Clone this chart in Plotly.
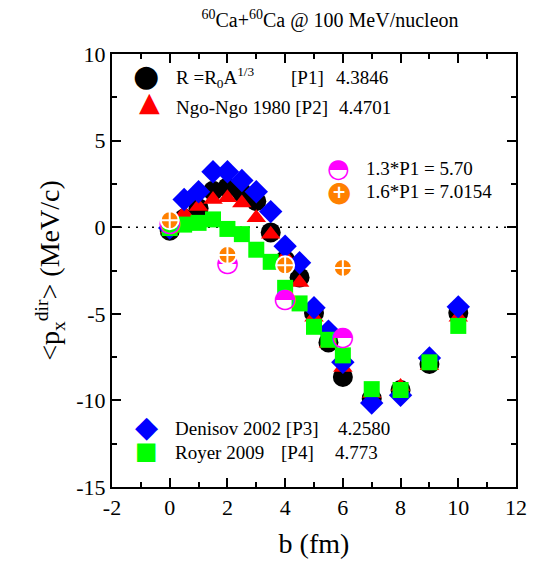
import plotly.graph_objects as go

# ---------------- data ----------------
b = [0, 0.5, 1, 1.5, 2, 2.5, 3, 3.5, 4, 4.5, 5, 5.5, 6, 7, 8, 9, 10]
p1 = [-0.2, 0.5, 1.1, 2.1, 2.3, 2.0, 1.5, -0.3, -1.9, -2.9, -4.95, -6.65, -8.65, -9.9, -9.4, -7.9, -4.95]
p2 = [-0.1, 0.8, 1.2, 1.6, 1.7, 1.4, 0.55, -0.4, -1.7, -3.2, -5.2, -6.7, -8.1, -9.6, -9.2, -8.0, -5.2]
p3 = [-0.05, 1.6, 2.05, 3.2, 3.2, 2.7, 2.05, 0.9, -1.1, -2.05, -4.65, -6.0, -7.8, -10.15, -9.7, -7.55, -4.6]
p4 = [-0.05, 0.15, 0.25, 0.45, -0.1, -0.4, -1.3, -2.0, -3.5, -4.4, -5.75, -6.5, -7.4, -9.35, -9.4, -7.8, -5.7]
b_scaled = [0, 2, 4, 6]
p1_x13 = [0.15, -2.15, -4.2, -6.4]
p1_x16 = [0.4, -1.6, -2.2, -2.35]

x_ticks = [-2, 0, 2, 4, 6, 8, 10, 12]
y_ticks = [-15, -10, -5, 0, 5, 10]

SERIF = "Liberation Serif, Times New Roman, serif"
GLYPH = "DejaVu Sans"

# page offset from the default body margin of the html page
OFF = 8
W, H = 539 - OFF, 575 - OFF
# plot area in page pixels
PL, PR, PT, PB = 112, 525, 54, 487
L, R, T, Bm = PL - OFF, PR - OFF, PT - OFF, PB - OFF

fig = go.Figure()

fig.add_trace(go.Scatter(x=b, y=p1, mode="markers",
                         marker=dict(symbol="circle", size=20, color="black", line=dict(width=0)),
                         showlegend=False))
fig.add_trace(go.Scatter(x=b, y=p2, mode="markers",
                         marker=dict(symbol="triangle-up", size=17, color="red", line=dict(width=0)),
                         showlegend=False))
fig.add_trace(go.Scatter(x=b, y=p3, mode="markers",
                         marker=dict(symbol="diamond", size=18, color="blue", line=dict(width=0)),
                         showlegend=False))
fig.add_trace(go.Scatter(x=b, y=p4, mode="markers",
                         marker=dict(symbol="square", size=16, color="#00FF00", line=dict(width=0)),
                         showlegend=False))
fig.add_trace(go.Scatter(x=b_scaled, y=p1_x13, mode="text", text=["\u25D3"] * len(b_scaled),
                         textposition="middle center",
                         textfont=dict(family=GLYPH, size=27, color="#FF00FF"),
                         showlegend=False))
fig.add_trace(go.Scatter(x=b_scaled, y=p1_x16, mode="markers",
                         marker=dict(symbol="circle-cross", size=18, color="#FF8000",
                                     line=dict(width=2, color="white")),
                         showlegend=False))

# dotted zero line
fig.add_shape(type="line", xref="paper", x0=0, x1=1, yref="y", y0=0, y1=0,
              line=dict(color="black", width=1.5, dash="2px,6px"), layer="below")

def px(x):
    return (x - PL) / (PR - PL)
def py(y):
    return (PB - y) / (PB - PT)

def ann(text, x, y, size=19, color="black", family=SERIF, xanchor="left"):
    fig.add_annotation(text=text, x=px(x), y=py(y), xref="paper", yref="paper",
                       showarrow=False, xanchor=xanchor, yanchor="middle",
                       font=dict(family=family, size=size, color=color))

# legend group 1
ann("\u25CF", 147, 76, size=30, family=GLYPH, xanchor="center")
ann("R =R<sub>0</sub>A<sup>1/3</sup>", 175, 77)
ann("[P1]", 293, 77)
ann("4.3846", 339, 77)
ann("\u25B2", 150, 101, size=27, color="red", family=GLYPH, xanchor="center")
ann("Ngo-Ngo 1980 [P2]", 175, 107)
ann("4.4701", 342, 107)

# legend group 2
ann("\u25D3", 344, 168, size=26, color="#FF00FF", family=GLYPH, xanchor="center")
ann("1.3*P1 = 5.70", 370, 168)
ann("\u25CF", 344, 192, size=28, color="#FF8000", family=GLYPH, xanchor="center")
ann("<b>+</b>", 344, 192, size=17, color="white", family=GLYPH, xanchor="center")
ann("1.6*P1 = 7.0154", 370, 192)

# legend group 3
ann("\u25C6", 147, 426, size=30, color="blue", family=GLYPH, xanchor="center")
ann("Denisov 2002 [P3]", 174, 428)
ann("4.2580", 341, 428)
ann("\u25A0", 147, 451, size=24, color="#00FF00", family=GLYPH, xanchor="center")
ann("Royer 2009", 174, 452)
ann("[P4]", 283, 452)
ann("4.773", 338, 452)

axis_common = dict(showline=True, linewidth=2, linecolor="black", mirror="allticks",
                   ticks="inside", ticklen=9, tickwidth=2, tickcolor="black",
                   showgrid=False, zeroline=False,
                   tickfont=dict(family=SERIF, size=22, color="black"))

fig.update_xaxes(range=[-2, 12], tickmode="array", tickvals=x_ticks,
                 ticktext=[str(v) for v in x_ticks],
                 minor=dict(ticks="inside", ticklen=5, tickwidth=2, tickcolor="black", dtick=1),
                 title=dict(text="b (fm)", font=dict(family=SERIF, size=28, color="black"), standoff=14),
                 **axis_common)
fig.update_yaxes(range=[-15, 10], tickmode="array", tickvals=y_ticks,
                 ticktext=[str(v) for v in y_ticks],
                 minor=dict(ticks="inside", ticklen=5, tickwidth=2, tickcolor="black", dtick=2.5),
                 title=dict(text="&lt;p<sub>x</sub><sup>dir</sup>&gt; (MeV/c)",
                            font=dict(family=SERIF, size=28, color="black"), standoff=8),
                 **axis_common)

fig.update_layout(
    width=W, height=H,
    margin=dict(l=L, r=W - R, t=T, b=H - Bm, pad=0),
    paper_bgcolor="white", plot_bgcolor="white",
    showlegend=False,
    title=dict(text="<sup>60</sup>Ca+<sup>60</sup>Ca @ 100 MeV/nucleon",
               x=(330 - OFF) / W, xanchor="center", y=1 - (20 - OFF) / H, yanchor="middle",
               font=dict(family=SERIF, size=20, color="black")),
)

fig.write_html("out.html")
